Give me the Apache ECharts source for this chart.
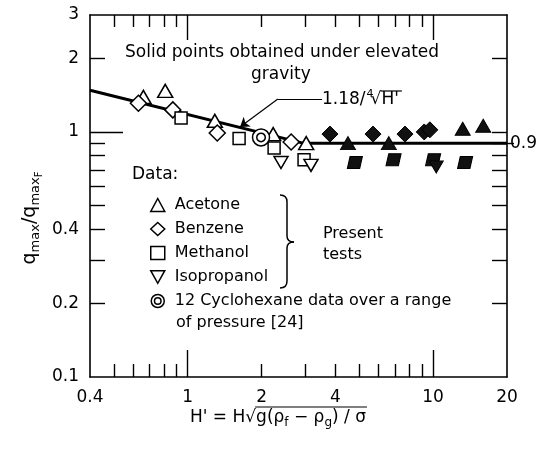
<!DOCTYPE html>
<html>
<head>
<meta charset="utf-8">
<script src="https://cdn.jsdelivr.net/npm/echarts@6/dist/echarts.min.js"></script>
<style>
  html, body { margin: 0; padding: 0; background: #fff; }
  #chart { width: 547px; height: 450px; }
</style>
</head>
<body>
<div id="chart"></div>
<script>
// tick positions / labels (natural units, axes are drawn in log10 space)
const xMinorTicks = [0.5, 0.6, 0.7, 0.8, 0.9, 2, 3, 4, 5, 6, 7, 8, 9];
const xMajorTicks = [1, 10];
const xTickLabels = [0.4, 1, 2, 4, 10, 20];
const yMinorTicks = [0.2, 0.3, 0.4, 0.5, 0.6, 0.7, 0.8, 0.9, 2];
const yMajorTicks = [1];
const yTickLabels = [0.1, 0.2, 0.4, 1, 2, 3];
const yRightLabels = [0.9];

// present tests, [H', qmax/qmaxF]
const acetone = [[0.66, 1.39], [0.81, 1.47], [1.29, 1.11], [2.23, 0.98], [3.04, 0.90]];
const benzene = [[0.63, 1.31], [0.87, 1.23], [1.32, 0.99], [2.64, 0.91]];
const methanol = [[0.94, 1.14], [1.62, 0.94], [2.25, 0.86], [2.98, 0.77]];
const isopropanol = [[2.40, 0.75], [3.18, 0.73]];
const cyclohexane = [[1.99, 0.95]];
// solid points, elevated gravity
const acetoneG = [[4.5, 0.90], [6.6, 0.90], [13.2, 1.03], [16.0, 1.06]];
const benzeneG = [[3.8, 0.98], [5.69, 0.98], [7.68, 0.98], [9.2, 1.0], [9.7, 1.02]];
const methanolG = [[4.8, 0.75], [6.9, 0.77], [10.0, 0.77], [13.5, 0.75]];
const isopropanolG = [[10.3, 0.72]];
// correlation 1.18/H'^(1/4) then 0.9
const correlation = [[0.4, 1.48], [2.95, 0.9], [20, 0.9]];

const lg = v => Math.log10(v);
const toLog = pts => pts.map(p => [lg(p[0]), lg(p[1])]);
const fmt = list => v => {
  const hit = list.find(t => Math.abs(lg(t) - v) < 1e-6);
  return hit === undefined ? '' : String(hit);
};

const FONT = 'DejaVu Sans';
const FS = 16;
const font = (s) => s + 'px "DejaVu Sans"';
const xMin = lg(0.4), xMax = lg(20), yMin = lg(0.1), yMax = lg(3);

const invTri = 'path://M0,0 L10,0 L5,9 Z';
const para = 'path://M2,0 L11,0 L9,8 L0,8 Z';
const dblCircle = 'path://M0,10 A10,10 0 1,0 20,10 A10,10 0 1,0 0,10 Z M5,10 A5,5 0 1,0 15,10 A5,5 0 1,0 5,10 Z';

// text width helper, used to place the overlines of the root signs
function textW(text, f, rich) {
  return new echarts.graphic.Text({ style: { text: text, font: f, rich: rich } }).getBoundingRect().width;
}

function xAx(pos, ticks, len, withLabels) {
  return {
    type: 'value', position: pos, min: xMin, max: xMax,
    axisLine: { show: withLabels !== null, onZero: false, lineStyle: { color: '#000', width: 1.6 } },
    axisTick: { inside: true, length: len, customValues: ticks.map(lg), lineStyle: { color: '#000', width: 1.4 } },
    axisLabel: withLabels ? {
      customValues: withLabels.map(lg), formatter: fmt(withLabels),
      color: '#000', fontFamily: FONT, fontSize: 17, margin: 12
    } : { show: false },
    splitLine: { show: false }
  };
}
function yAx(pos, ticks, len, withLabels) {
  return {
    type: 'value', position: pos, min: yMin, max: yMax,
    axisLine: { show: withLabels !== null, onZero: false, lineStyle: { color: '#000', width: 1.6 } },
    axisTick: { inside: true, length: len, customValues: ticks.map(lg), lineStyle: { color: '#000', width: 1.4 } },
    axisLabel: withLabels ? {
      customValues: withLabels.map(lg), formatter: fmt(withLabels),
      color: '#000', fontFamily: FONT, fontSize: 17, margin: 11
    } : { show: false },
    splitLine: { show: false }
  };
}

function openSeries(name, data, symbol, size) {
  return {
    name: name, type: 'scatter', data: toLog(data), symbol: symbol, symbolSize: size, z: 5,
    itemStyle: { color: '#fff', borderColor: '#000', borderWidth: 1.5, opacity: 1 }
  };
}
function solidSeries(name, data, symbol, size) {
  return {
    name: name, type: 'scatter', data: toLog(data), symbol: symbol, symbolSize: size, z: 5,
    itemStyle: { color: '#111', borderColor: '#000', borderWidth: 1, opacity: 1 }
  };
}

const arrowStart = [3.53, 1.363], arrowElbow = [2.33, 1.363], arrowTip = [1.634, 1.048];

const braceStyle = { stroke: '#000', lineWidth: 1.5, fill: 'none' };
const txt = (t, s) => ({ text: t, font: font(s || FS), fill: '#000' });

// x axis title pieces:  H' = H √ g(ρf − ρg)/σ
const subRich = { s: { fontSize: 12, fontFamily: FONT, padding: [10, 0, 0, 0] } };
const xt1 = 'H\' = H', xt2 = '√', xt3 = 'g(ρ{s|f} − ρ{s|g}) / σ';
const xtX = 190, xtY = 418;
const xw1 = textW(xt1, font(17)), xw2 = textW(xt2, font(17)), xw3 = textW(xt3, font(17), subRich);
// correlation label pieces: 1.18 / ⁴√H'
const lt1 = '1.18/', lt3 = '√', lt4 = 'H\'';
const ltX = 322, ltY = 100;
const lw1 = textW(lt1, font(17)), lwSup = textW('4', font(11)), lw3 = textW(lt3, font(17)), lw4 = textW(lt4, font(17));

const chart = echarts.init(document.getElementById('chart'));
chart.setOption({
  animation: false,
  backgroundColor: '#fff',
  grid: { left: 90, right: 40, top: 15, bottom: 73 },
  xAxis: [
    xAx('bottom', xMinorTicks, 13, xTickLabels),
    xAx('bottom', xMajorTicks, 27, null),
    xAx('top', xMinorTicks, 12, false),
    xAx('top', xMajorTicks, 25, null)
  ],
  yAxis: [
    yAx('left', yMinorTicks, 15, yTickLabels),
    yAx('left', yMajorTicks, 33, null),
    yAx('right', yMinorTicks.concat([1]), 15, false),
    {
      type: 'value', position: 'right', min: yMin, max: yMax,
      axisLine: { show: false, onZero: false },
      axisTick: { inside: false, length: 7, customValues: yRightLabels.map(lg), lineStyle: { color: '#000', width: 1.4 } },
      axisLabel: { customValues: yRightLabels.map(lg), formatter: fmt(yRightLabels), color: '#000', fontFamily: FONT, fontSize: 17, margin: 3 },
      splitLine: { show: false }
    }
  ],
  legend: {
    orient: 'vertical', left: 145, top: 192, itemGap: 8, itemWidth: 14, itemHeight: 13,
    textStyle: { color: '#000', fontFamily: FONT, fontSize: FS, padding: [0, 0, 0, 5] },
    itemStyle: { borderWidth: 1.5, borderColor: '#000', color: '#fff' },
    formatter: n => n === 'Cyclohexane' ? '12 Cyclohexane data over a range' : n,
    data: [
      { name: 'Acetone', icon: 'triangle' },
      { name: 'Benzene', icon: 'diamond' },
      { name: 'Methanol', icon: 'rect' },
      { name: 'Isopropanol', icon: invTri },
      { name: 'Cyclohexane', icon: dblCircle }
    ],
    selectedMode: false
  },
  graphic: [
    { type: 'text', left: 125, top: 44, style: txt('Solid points obtained under elevated', 17) },
    { type: 'text', left: 251, top: 66, style: txt('gravity', 17) },
    { type: 'text', left: 132, top: 166, style: txt('Data:', 17) },
    { type: 'text', left: 176, top: 315, style: txt('of pressure [24]') },
    { type: 'text', left: 323, top: 223, style: Object.assign(txt('Present\ntests'), { lineHeight: 21 }) },
    { type: 'bezierCurve', shape: { x1: 280, y1: 195, cpx1: 287, cpy1: 195, x2: 287, y2: 202 }, style: braceStyle },
    { type: 'line', shape: { x1: 287, y1: 202, x2: 287, y2: 236 }, style: braceStyle },
    { type: 'bezierCurve', shape: { x1: 287, y1: 236, cpx1: 287, cpy1: 242, x2: 294, y2: 242 }, style: braceStyle },
    { type: 'bezierCurve', shape: { x1: 294, y1: 242, cpx1: 287, cpy1: 242, x2: 287, y2: 248 }, style: braceStyle },
    { type: 'line', shape: { x1: 287, y1: 248, x2: 287, y2: 281 }, style: braceStyle },
    { type: 'bezierCurve', shape: { x1: 287, y1: 281, cpx1: 287, cpy1: 288, x2: 280, y2: 288 }, style: braceStyle },
    // 1.18 / 4th root of H'
    { type: 'text', x: ltX, y: ltY, style: Object.assign(txt(lt1, 17), { verticalAlign: 'middle' }) },
    { type: 'text', x: ltX + lw1 + 1, y: ltY - 6, style: Object.assign(txt('4', 11), { verticalAlign: 'middle' }) },
    { type: 'text', x: ltX + lw1 + lwSup - 2, y: ltY, style: Object.assign(txt(lt3, 17), { verticalAlign: 'middle' }) },
    { type: 'text', x: ltX + lw1 + lwSup - 2 + lw3, y: ltY, style: Object.assign(txt(lt4, 17), { verticalAlign: 'middle' }) },
    { type: 'line', shape: { x1: ltX + lw1 + lwSup - 3 + lw3, y1: ltY - 9, x2: ltX + lw1 + lwSup + lw3 + lw4 + 1, y2: ltY - 9 },
      style: { stroke: '#000', lineWidth: 1.2 } },
    // y axis title
    { type: 'text', x: 30, y: 218, rotation: Math.PI / 2,
      style: Object.assign(txt('q{s|max}/q{s|max}{ss|F}', 19), { align: 'center', verticalAlign: 'middle',
        rich: { s: { fontSize: 13, fontFamily: FONT, padding: [11, 0, 0, 0] }, ss: { fontSize: 10, fontFamily: FONT, padding: [19, 0, 0, 0] } } }) },
    // x axis title
    { type: 'text', x: xtX, y: xtY, style: Object.assign(txt(xt1, 17), { verticalAlign: 'middle' }) },
    { type: 'text', x: xtX + xw1, y: xtY, style: Object.assign(txt(xt2, 17), { verticalAlign: 'middle' }) },
    { type: 'text', x: xtX + xw1 + xw2, y: xtY, style: Object.assign(txt(xt3, 17), { verticalAlign: 'middle', rich: subRich }) },
    { type: 'line', shape: { x1: xtX + xw1 + xw2 - 1, y1: xtY - 11, x2: xtX + xw1 + xw2 + xw3 + 1, y2: xtY - 11 },
      style: { stroke: '#000', lineWidth: 1.2 } }
  ],
  series: [
    {
      name: 'correlation', type: 'line', data: toLog(correlation), symbol: 'none', z: 3,
      lineStyle: { color: '#000', width: 3 },
      markLine: {
        silent: true, z: 4, label: { show: false },
        lineStyle: { color: '#000', width: 1.2, type: 'solid' },
        symbolSize: 9,
        data: [
          [{ coord: toLog([arrowStart])[0], symbol: 'none' }, { coord: toLog([arrowElbow])[0], symbol: 'none' }],
          [{ coord: toLog([arrowElbow])[0], symbol: 'none' }, { coord: toLog([arrowTip])[0], symbol: 'arrow' }]
        ]
      }
    },
    openSeries('Acetone', acetone, 'triangle', [15, 13]),
    openSeries('Benzene', benzene, 'diamond', 16),
    openSeries('Methanol', methanol, 'rect', 12),
    openSeries('Isopropanol', isopropanol, invTri, [14, 12]),
    openSeries('Cyclohexane', cyclohexane, dblCircle, 17),
    solidSeries('Acetone (elevated gravity)', acetoneG, 'triangle', [15, 13]),
    solidSeries('Benzene (elevated gravity)', benzeneG, 'diamond', 16),
    solidSeries('Methanol (elevated gravity)', methanolG, para, [15, 12]),
    solidSeries('Isopropanol (elevated gravity)', isopropanolG, invTri, [14, 12])
  ]
});
</script>
</body>
</html>
